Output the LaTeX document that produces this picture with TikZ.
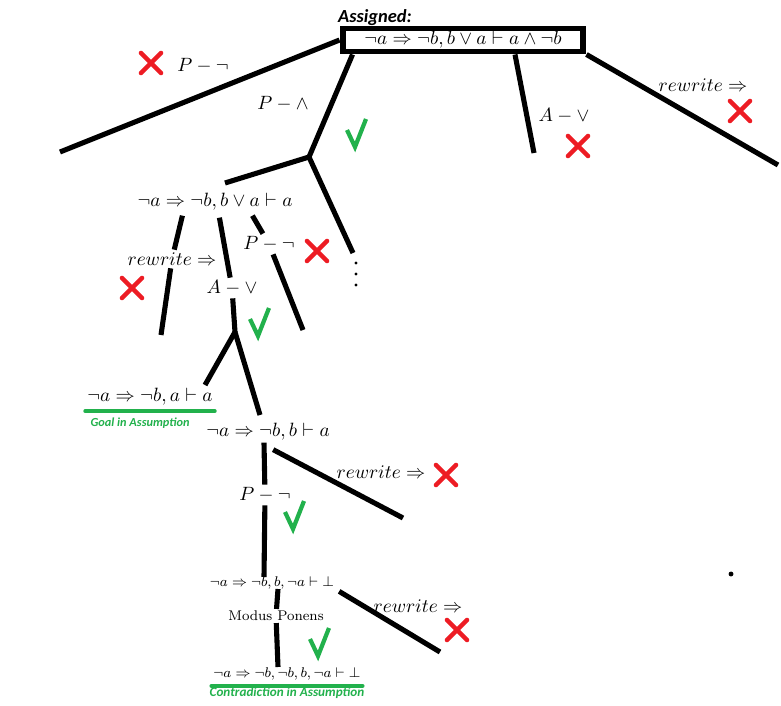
\documentclass[tikz,border=0pt]{standalone}
\usepackage{amsmath,amssymb}
\usepackage{fontspec}
\newfontfamily\calibri{Carlito}
\usepackage{tikz}
\usetikzlibrary{positioning,calc}
\definecolor{ckred}{RGB}{237,28,36}
\definecolor{ckgreen}{RGB}{34,177,76}

\begin{document}
\begin{tikzpicture}[
    x=0.02cm, y=-0.02cm,
    font=\fontsize{10.95}{13}\selectfont,
    seq/.style={inner sep=1pt},
    small/.style={inner sep=1pt, font=\footnotesize},
    rule/.style={inner sep=1.5pt},
    rootbox/.style={draw, line width=3.4pt, minimum width=4.82cm, minimum height=0.46cm, inner sep=0pt},
    conn/.style={line width=2.9pt},
    bad/.style={draw=ckred, line width=2.6pt, line cap=round},
    good/.style={draw=ckgreen, line width=2.4pt},
    uline/.style={draw=ckgreen, line width=2.2pt, line cap=round},
    note/.style={inner sep=0pt, text=ckgreen, font=\calibri\bfseries\itshape\fontsize{7}{8}\selectfont}
]
    \useasboundingbox (0,0) rectangle (781,706);

    % Root
    \node[rootbox] (root) at (463,40) {$\neg a \Rightarrow \neg b, b \vee a \vdash a \wedge \neg b$\hspace{8pt}};
    \node[above right=0pt and -1pt of root.north west, inner sep=0pt,
          font=\calibri\bfseries\itshape\fontsize{10.5}{12}\selectfont] (assigned) {Assigned:};

    % First level
    \coordinate (endNeg) at (60,152);
    \coordinate (jAnd) at (309,157);
    \coordinate (endOr) at (534,153);
    \coordinate (endRw) at (778,165);
    \node[rule] (negTop) at (203,66) {$P - \neg$};
    \node[rule] (andTop) at (283,104) {$P - \wedge$};
    \node[rule] (orTop) at (564,116) {$A - \vee$};
    \node[rule] (rwTop) at (703,85) {$rewrite \Rightarrow$};
    \draw[conn] (root.west) -- (endNeg);
    \draw[conn] ($(root.south west)+(13,0)$) -- (jAnd);
    \draw[conn] ($(root.south)+(52,0)$) -- (endOr);
    \draw[conn] (root.south east) -- (endRw);

    % Second level
    \node[seq] (seqL) at (215,202) {$\neg a \Rightarrow \neg b, b \vee a \vdash a$};
    \coordinate (topL) at (225,183);
    \coordinate (dotsTop) at (353,253);
    \draw[conn] (jAnd) -- (topL);
    \draw[conn] (jAnd) -- (dotsTop);
    \foreach \y in {263,274,285} \fill (356,\y) circle (0.9pt);

    \node[rule] (rwL) at (172,259) {$rewrite \Rightarrow$};
    \node[rule] (orL) at (232,288) {$A - \vee$};
    \node[rule] (negL) at (269,244) {$P - \neg$};
    \coordinate (endRwL) at (161,335);
    \coordinate (jOr) at (235,332);
    \coordinate (endNegL) at (303,330);
    \draw[conn] ($(seqL.south west)+(47,3)$) -- (rwL) -- (endRwL);
    \draw[conn] ($(seqL.south west)+(84,5)$) -- (orL) -- (jOr);
    \draw[conn] ($(seqL.south west)+(117,3)$) -- (negL) -- (endNegL);

    % Third level
    \node[seq] (goal) at (150,397) {$\neg a \Rightarrow \neg b, a \vdash a$};
    \node[seq] (seqB) at (268,432) {$\neg a \Rightarrow \neg b, b \vdash a$};
    \coordinate (topGoal) at (205,385);
    \coordinate (topB) at (260,415);
    \draw[conn] (jOr) -- (topGoal);
    \draw[conn] (jOr) -- (topB);
    \draw[uline] ([yshift=-2pt]goal.south west) -- ([yshift=-2pt]goal.south east);
    \node[note, below right=0.2cm and 0.1cm of goal.south west] (goalNote) {Goal in Assumption};

    % Branches of seqB
    \node[rule] (negB) at (265,495) {$P - \neg$};
    \node[rule] (rwB) at (381,472) {$rewrite \Rightarrow$};
    \node[small] (seqC) at (272,583) {$\neg a \Rightarrow \neg b, b, \neg a \vdash \bot$};
    \coordinate (topC) at (264,577);
    \coordinate (endRwB) at (403,518);
    \draw[conn] ($(seqB.south)+(-4,0)$) -- (negB) -- (topC);
    \draw[conn] ($(seqB.south west)+(69,7)$) -- (endRwB);

    % Branches of seqC
    \node[small] (mp) at (276,616) {Modus Ponens};
    \node[rule] (rwC) at (418,606) {$rewrite \Rightarrow$};
    \node[small] (seqD) at (287,674) {$\neg a \Rightarrow \neg b, \neg b, b, \neg a \vdash \bot$};
    \coordinate (midC) at (278,589);
    \coordinate (topD) at (278,667);
    \coordinate (endRwC) at (440,652);
    \draw[conn] (midC) -- (mp) -- (topD);
    \draw[conn] ($(seqC.south east)+(3,0)$) -- (endRwC);
    \draw[uline] ([yshift=-2pt]seqD.south west) -- ([yshift=-2pt]seqD.south east);
    \node[note, below=0.1cm of seqD, font=\calibri\bfseries\itshape\fontsize{7.5}{8}\selectfont] (contraNote) {Contradiction in Assumption};

    % Marks
    \foreach \x/\y in {151/63, 578/146, 740/111, 132/288, 317/251, 446/475, 457/630}
        \draw[bad] (\x-10,\y-10) -- (\x+10,\y+10) (\x-10,\y+10) -- (\x+10,\y-10);
    \foreach \x/\y in {357/133, 260/322, 295/515, 320/642}
        \draw[good] (\x-10,\y-3) -- (\x-2,\y+14) -- (\x+9,\y-14);

    \fill (731,574) circle (1.4pt);
\end{tikzpicture}
\end{document}
